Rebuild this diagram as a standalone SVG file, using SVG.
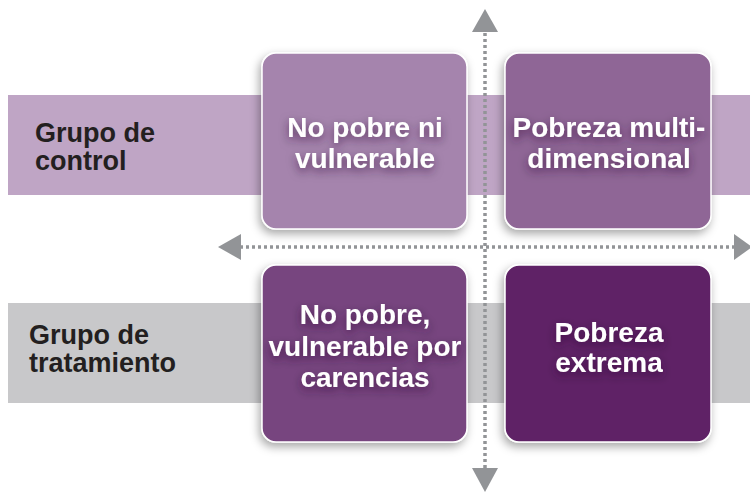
<svg xmlns="http://www.w3.org/2000/svg" width="750" height="493" viewBox="0 0 750 493">
<defs>
<filter id="bs" x="-20%" y="-20%" width="140%" height="140%"><feDropShadow dx="-2" dy="4" stdDeviation="5" flood-color="#000" flood-opacity="0.35"/></filter>
<filter id="ts" x="-20%" y="-30%" width="140%" height="160%"><feDropShadow dx="0" dy="4" stdDeviation="5" flood-color="#2a0a30" flood-opacity="0.6"/></filter>
</defs>
<style>
.lab{font-family:"Liberation Sans",Arial,sans-serif;font-weight:bold;font-size:27px;fill:#231f20}
.bt{font-family:"Liberation Sans",Arial,sans-serif;font-weight:bold;font-size:28px;fill:#fff;text-anchor:middle}
.box{stroke:#fff;stroke-width:1.5}
.ax{stroke:#929497;stroke-width:3.5;stroke-dasharray:3 3;fill:none}
.ar{fill:#929497}
</style>
<rect x="0" y="0" width="750" height="493" fill="#fff"/>
<g id="band-control"><rect x="8" y="95" width="742" height="100" fill="#bfa5c5"/><text class="lab" x="35" y="142">Grupo de</text><text class="lab" x="35" y="170">control</text></g>
<g id="band-tratamiento"><rect x="8" y="303" width="742" height="100" fill="#c8c8ca"/><text class="lab" x="29" y="344">Grupo de</text><text class="lab" x="29" y="372">tratamiento</text></g>
<g id="connectors">
<line class="ax" x1="485" y1="480" x2="485" y2="32"/>
<path class="ar" d="M485,9 L472,32 L498,32 z"/>
<path class="ar" d="M485,492 L472,468 L498,468 z"/>
<line class="ax" x1="240" y1="247" x2="735" y2="247"/>
<path class="ar" d="M218,247 L241,234 L241,260 z"/>
<path class="ar" d="M752,247 L734,234 L734,260 z"/>
</g>
<g id="n1"><rect class="box" x="262" y="53" width="205" height="176" rx="14" fill="#a584ad" filter="url(#bs)"/><g filter="url(#ts)"><text class="bt" x="365" y="137">No pobre ni</text><text class="bt" x="365" y="168">vulnerable</text></g></g>
<g id="n2"><rect class="box" x="505" y="53" width="206" height="176" rx="14" fill="#8f6696" filter="url(#bs)"/><g filter="url(#ts)"><text class="bt" x="609" y="137">Pobreza multi-</text><text class="bt" x="609" y="168">dimensional</text></g></g>
<g id="n3"><rect class="box" x="262" y="265" width="205" height="177" rx="14" fill="#77457f" filter="url(#bs)"/><g filter="url(#ts)"><text class="bt" x="365" y="324">No pobre,</text><text class="bt" x="365" y="356">vulnerable por</text><text class="bt" x="365" y="387">carencias</text></g></g>
<g id="n4"><rect class="box" x="505" y="265" width="206" height="177" rx="14" fill="#5e2466" filter="url(#bs)"/><g filter="url(#ts)"><text class="bt" x="609" y="342">Pobreza</text><text class="bt" x="609" y="372">extrema</text></g></g>
</svg>
